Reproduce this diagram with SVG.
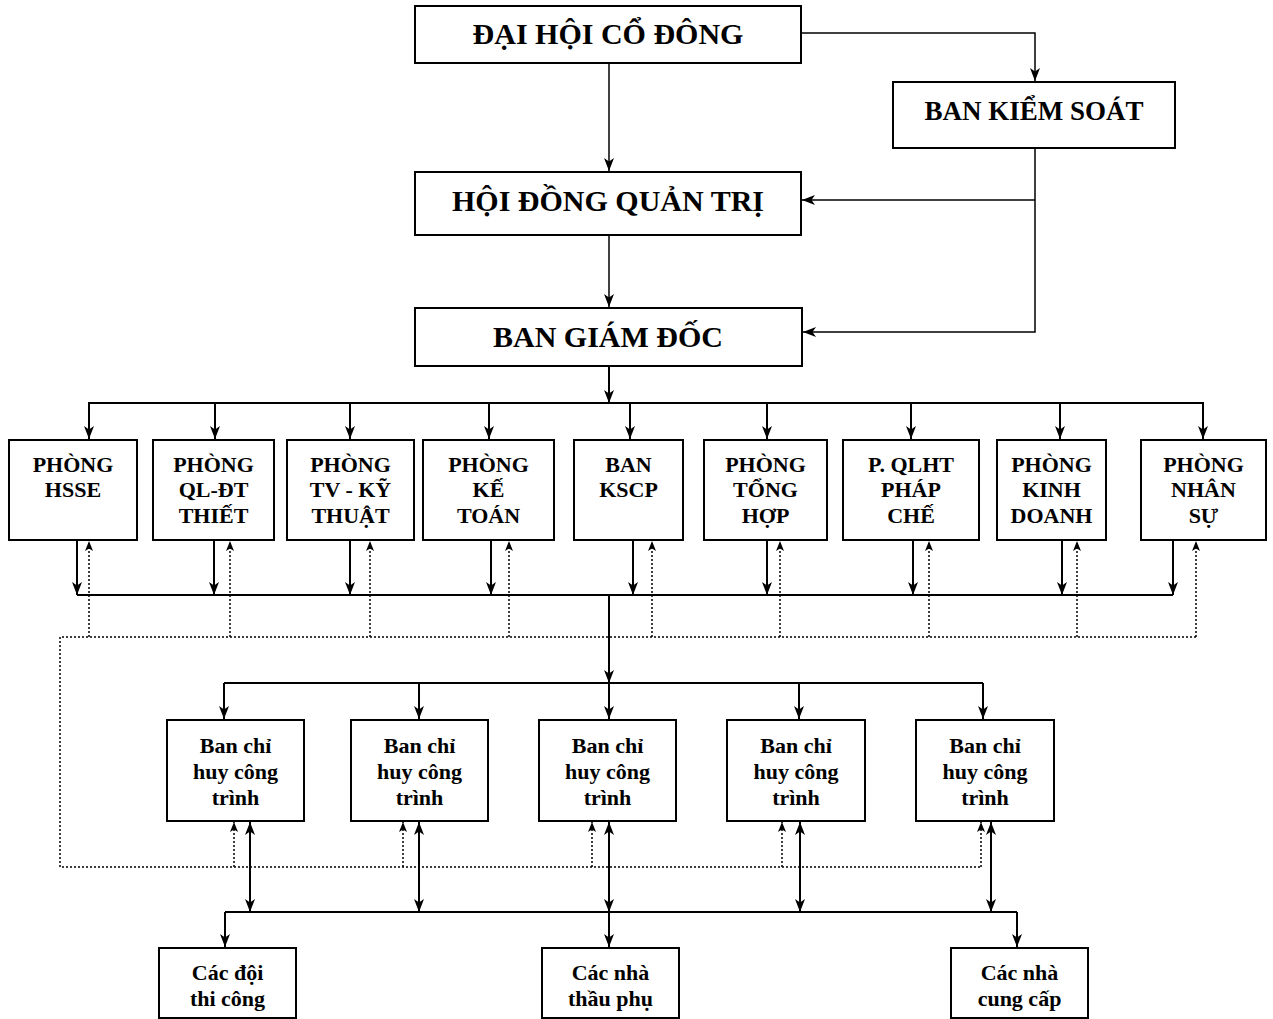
<svg xmlns="http://www.w3.org/2000/svg" width="1273" height="1019" viewBox="0 0 1273 1019">
<style>
.box{fill:#fff;stroke:#000;stroke-width:2}
.t{font-family:"Liberation Serif","Times New Roman",serif;font-weight:bold;fill:#000;text-anchor:middle}
.big{font-size:30px}
.mid{font-size:27px}
.sm{font-size:22px}
.c{fill:none;stroke:#000;stroke-width:2}
.ct{fill:none;stroke:#000;stroke-width:1.5}
.d{fill:none;stroke:#000;stroke-width:1.5;stroke-dasharray:2 2}
</style>
<defs>
<marker id="ah" markerUnits="userSpaceOnUse" markerWidth="14" markerHeight="10" refX="13" refY="5" orient="auto-start-reverse" viewBox="0 0 14 10">
<path d="M0,0 L13,5 L0,10 L3.5,5 z" fill="#000"/>
</marker>
<marker id="ahd" markerUnits="userSpaceOnUse" markerWidth="10" markerHeight="8" refX="10" refY="4" orient="auto" viewBox="0 0 10 8">
<path d="M0,0 L10,4 L0,8 L2.5,4 z" fill="#000"/>
</marker>
</defs>
<rect width="1273" height="1019" fill="#fff"/>

<g id="connectors">
<!-- top -->
<path class="ct" d="M801,33 H1035 V81" marker-end="url(#ah)"/>
<path class="ct" d="M609,63 V171" marker-end="url(#ah)"/>
<path class="ct" d="M609,235 V307" marker-end="url(#ah)"/>
<path class="ct" d="M1035,148 V332 H803" marker-end="url(#ah)"/>
<path class="ct" d="M1035,200 H802" marker-end="url(#ah)"/>
<!-- BGD to departments -->
<path class="c" d="M609,366 V403" marker-end="url(#ah)"/>
<path class="c" d="M89,439 V403 H1203 V439"/>
<path class="c" d="M89,403 V439" marker-end="url(#ah)"/>
<path class="c" d="M215,403 V439" marker-end="url(#ah)"/>
<path class="c" d="M350,403 V439" marker-end="url(#ah)"/>
<path class="c" d="M489,403 V439" marker-end="url(#ah)"/>
<path class="c" d="M630,403 V439" marker-end="url(#ah)"/>
<path class="c" d="M767,403 V439" marker-end="url(#ah)"/>
<path class="c" d="M911,403 V439" marker-end="url(#ah)"/>
<path class="c" d="M1060,403 V439" marker-end="url(#ah)"/>
<path class="c" d="M1203,403 V439" marker-end="url(#ah)"/>
<!-- departments down to bus -->
<path class="c" d="M77,595 H1173"/>
<path class="c" d="M77,541 V595" marker-end="url(#ah)"/>
<path class="c" d="M214,541 V595" marker-end="url(#ah)"/>
<path class="c" d="M350,541 V595" marker-end="url(#ah)"/>
<path class="c" d="M491,541 V595" marker-end="url(#ah)"/>
<path class="c" d="M633,541 V595" marker-end="url(#ah)"/>
<path class="c" d="M767,541 V595" marker-end="url(#ah)"/>
<path class="c" d="M913,541 V595" marker-end="url(#ah)"/>
<path class="c" d="M1062,541 V595" marker-end="url(#ah)"/>
<path class="c" d="M1173,541 V595" marker-end="url(#ah)"/>
<!-- dotted feedback -->
<path class="d" d="M1196,637 H60 V867 H981"/>
<path class="d" d="M89,637 V541" marker-end="url(#ahd)"/>
<path class="d" d="M230,637 V541" marker-end="url(#ahd)"/>
<path class="d" d="M370,637 V541" marker-end="url(#ahd)"/>
<path class="d" d="M509,637 V541" marker-end="url(#ahd)"/>
<path class="d" d="M652,637 V541" marker-end="url(#ahd)"/>
<path class="d" d="M780,637 V541" marker-end="url(#ahd)"/>
<path class="d" d="M929,637 V541" marker-end="url(#ahd)"/>
<path class="d" d="M1077,637 V541" marker-end="url(#ahd)"/>
<path class="d" d="M1196,637 V541" marker-end="url(#ahd)"/>
<path class="d" d="M234,867 V822" marker-end="url(#ahd)"/>
<path class="d" d="M403,867 V822" marker-end="url(#ahd)"/>
<path class="d" d="M592,867 V822" marker-end="url(#ahd)"/>
<path class="d" d="M782,867 V822" marker-end="url(#ahd)"/>
<path class="d" d="M981,867 V822" marker-end="url(#ahd)"/>
<!-- to Ban chi huy -->
<path class="c" d="M609,595 V683" marker-end="url(#ah)"/>
<path class="c" d="M224,683 H983"/>
<path class="c" d="M224,683 V719" marker-end="url(#ah)"/>
<path class="c" d="M419,683 V719" marker-end="url(#ah)"/>
<path class="c" d="M609,683 V719" marker-end="url(#ah)"/>
<path class="c" d="M799,683 V719" marker-end="url(#ah)"/>
<path class="c" d="M983,683 V719" marker-end="url(#ah)"/>
<!-- Ban chi huy to bottom -->
<path class="c" d="M250,822 V912" marker-start="url(#ah)" marker-end="url(#ah)"/>
<path class="c" d="M419,822 V912" marker-start="url(#ah)" marker-end="url(#ah)"/>
<path class="c" d="M609,822 V912" marker-start="url(#ah)" marker-end="url(#ah)"/>
<path class="c" d="M800,822 V912" marker-start="url(#ah)" marker-end="url(#ah)"/>
<path class="c" d="M991,822 V912" marker-start="url(#ah)" marker-end="url(#ah)"/>
<path class="c" d="M225,912 H1017"/>
<path class="c" d="M225,912 V947" marker-end="url(#ah)"/>
<path class="c" d="M609,912 V947" marker-end="url(#ah)"/>
<path class="c" d="M1017,912 V947" marker-end="url(#ah)"/>
</g>

<g id="dai-hoi-co-dong"><rect class="box" x="415" y="6" width="386" height="57"/><text class="t big" x="608" y="44">ĐẠI HỘI CỔ ĐÔNG</text></g>
<g id="ban-kiem-soat"><rect class="box" x="893" y="82" width="282" height="66"/><text class="t mid" x="1034" y="120">BAN KIỂM SOÁT</text></g>
<g id="hoi-dong-quan-tri"><rect class="box" x="415" y="172" width="386" height="63"/><text class="t big" x="608" y="211">HỘI ĐỒNG QUẢN TRỊ</text></g>
<g id="ban-giam-doc"><rect class="box" x="415" y="308" width="387" height="58"/><text class="t big" x="608" y="347">BAN GIÁM ĐỐC</text></g>

<g id="phong-hsse"><rect class="box" x="9" y="440" width="128" height="100"/><text class="t sm" x="73" y="472">PHÒNG</text><text class="t sm" x="73" y="497">HSSE</text></g>
<g id="phong-ql-dt"><rect class="box" x="153" y="440" width="121" height="100"/><text class="t sm" x="213.5" y="472">PHÒNG</text><text class="t sm" x="213.5" y="497">QL-ĐT</text><text class="t sm" x="213.5" y="523">THIẾT</text></g>
<g id="phong-tv-ky-thuat"><rect class="box" x="287" y="440" width="127" height="100"/><text class="t sm" x="350.5" y="472">PHÒNG</text><text class="t sm" x="350.5" y="497">TV - KỸ</text><text class="t sm" x="350.5" y="523">THUẬT</text></g>
<g id="phong-ke-toan"><rect class="box" x="423" y="440" width="131" height="100"/><text class="t sm" x="488.5" y="472">PHÒNG</text><text class="t sm" x="488.5" y="497">KẾ</text><text class="t sm" x="488.5" y="523">TOÁN</text></g>
<g id="ban-kscp"><rect class="box" x="574" y="440" width="109" height="100"/><text class="t sm" x="628.5" y="472">BAN</text><text class="t sm" x="628.5" y="497">KSCP</text></g>
<g id="phong-tong-hop"><rect class="box" x="704" y="440" width="123" height="100"/><text class="t sm" x="765.5" y="472">PHÒNG</text><text class="t sm" x="765.5" y="497">TỔNG</text><text class="t sm" x="765.5" y="523">HỢP</text></g>
<g id="p-qlht-phap-che"><rect class="box" x="843" y="440" width="136" height="100"/><text class="t sm" x="911" y="472">P. QLHT</text><text class="t sm" x="911" y="497">PHÁP</text><text class="t sm" x="911" y="523">CHẾ</text></g>
<g id="phong-kinh-doanh"><rect class="box" x="997" y="440" width="109" height="100"/><text class="t sm" x="1051.5" y="472">PHÒNG</text><text class="t sm" x="1051.5" y="497">KINH</text><text class="t sm" x="1051.5" y="523">DOANH</text></g>
<g id="phong-nhan-su"><rect class="box" x="1141" y="440" width="125" height="100"/><text class="t sm" x="1203.5" y="472">PHÒNG</text><text class="t sm" x="1203.5" y="497">NHÂN</text><text class="t sm" x="1203.5" y="523">SỰ</text></g>

<g id="ban-chi-huy-1"><rect class="box" x="167" y="720" width="137" height="101"/><text class="t sm" x="235.5" y="753">Ban chỉ</text><text class="t sm" x="235.5" y="779">huy công</text><text class="t sm" x="235.5" y="805">trình</text></g>
<g id="ban-chi-huy-2"><rect class="box" x="351" y="720" width="137" height="101"/><text class="t sm" x="419.5" y="753">Ban chỉ</text><text class="t sm" x="419.5" y="779">huy công</text><text class="t sm" x="419.5" y="805">trình</text></g>
<g id="ban-chi-huy-3"><rect class="box" x="539" y="720" width="137" height="101"/><text class="t sm" x="607.5" y="753">Ban chỉ</text><text class="t sm" x="607.5" y="779">huy công</text><text class="t sm" x="607.5" y="805">trình</text></g>
<g id="ban-chi-huy-4"><rect class="box" x="727" y="720" width="138" height="101"/><text class="t sm" x="796" y="753">Ban chỉ</text><text class="t sm" x="796" y="779">huy công</text><text class="t sm" x="796" y="805">trình</text></g>
<g id="ban-chi-huy-5"><rect class="box" x="916" y="720" width="138" height="101"/><text class="t sm" x="985" y="753">Ban chỉ</text><text class="t sm" x="985" y="779">huy công</text><text class="t sm" x="985" y="805">trình</text></g>

<g id="cac-doi-thi-cong"><rect class="box" x="159" y="948" width="137" height="70"/><text class="t sm" x="227.5" y="980">Các đội</text><text class="t sm" x="227.5" y="1006">thi công</text></g>
<g id="cac-nha-thau-phu"><rect class="box" x="542" y="948" width="137" height="70"/><text class="t sm" x="610.5" y="980">Các nhà</text><text class="t sm" x="610.5" y="1006">thầu phụ</text></g>
<g id="cac-nha-cung-cap"><rect class="box" x="951" y="948" width="137" height="70"/><text class="t sm" x="1019.5" y="980">Các nhà</text><text class="t sm" x="1019.5" y="1006">cung cấp</text></g>
</svg>
